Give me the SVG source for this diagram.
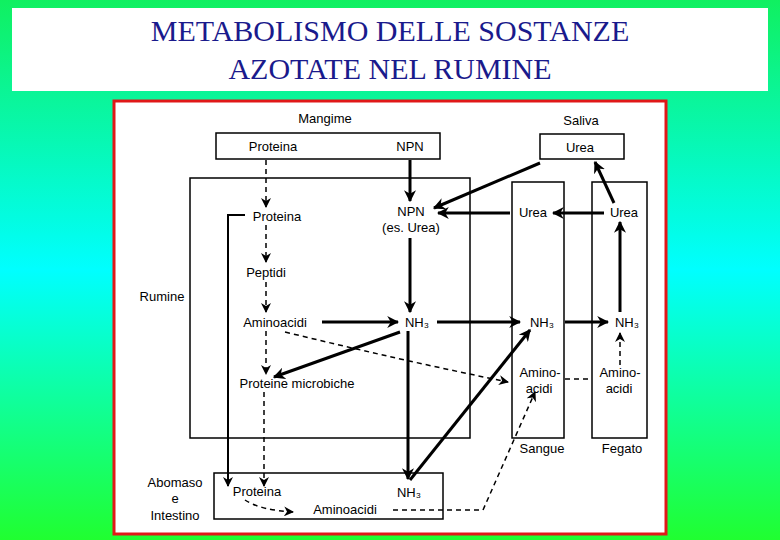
<svg xmlns="http://www.w3.org/2000/svg" width="780" height="540" viewBox="0 0 780 540">
<defs>
<linearGradient id="bg" x1="0" y1="0" x2="0" y2="1">
<stop offset="0" stop-color="#10f060"/><stop offset="0.5" stop-color="#00ffff"/><stop offset="1" stop-color="#20ff30"/>
</linearGradient>
<marker id="a" viewBox="0 0 10 10" refX="9" refY="5" markerWidth="10" markerHeight="10" markerUnits="userSpaceOnUse" orient="auto"><path d="M0,0 L10,5 L0,10 L3,5 Z" fill="#000"/></marker>
<marker id="b" viewBox="0 0 10 10" refX="9" refY="5" markerWidth="12" markerHeight="12" markerUnits="userSpaceOnUse" orient="auto"><path d="M0,0 L10,5 L0,10 L3,5 Z" fill="#000"/></marker>
</defs>
<style>
text{font-family:"Liberation Sans",Arial,sans-serif;font-size:13px;fill:#000;text-anchor:middle}
.t{font-family:"Liberation Serif","Times New Roman",serif;font-size:30px;fill:#1a1a8c}
.box{fill:none;stroke:#000;stroke-width:1.5}
.s{fill:none;stroke:#000;stroke-width:3;marker-end:url(#b)}
.d{fill:none;stroke:#000;stroke-width:1.5;stroke-dasharray:5,4;marker-end:url(#a)}
.dn{fill:none;stroke:#000;stroke-width:1.5;stroke-dasharray:5,4}
.l{fill:none;stroke:#000;stroke-width:2;marker-end:url(#a)}
</style>
<rect width="780" height="540" fill="url(#bg)"/>
<g id="title"><rect x="12" y="8" width="756" height="83" fill="#fff"/>
<text class="t" x="390" y="41">METABOLISMO DELLE SOSTANZE</text><text class="t" x="390" y="79">AZOTATE NEL RUMINE</text></g>
<rect x="114" y="101" width="552" height="433" fill="#fff" stroke="#e01818" stroke-width="3"/>
<g id="mangime"><text x="325" y="123">Mangime</text><rect class="box" x="216" y="133" width="224" height="26"/><text x="273" y="151">Proteina</text><text x="410" y="151">NPN</text></g>
<g id="saliva"><text x="581" y="125">Saliva</text><rect class="box" x="540" y="134" width="84" height="25"/><text x="580" y="152">Urea</text></g>
<g id="rumine"><rect class="box" x="190" y="178" width="280" height="260"/><text x="162" y="301">Rumine</text>
<text x="277" y="221">Proteina</text><text x="266" y="277">Peptidi</text><text x="275" y="327">Aminoacidi</text><text x="297" y="388">Proteine microbiche</text>
<text x="411" y="216">NPN</text><text x="411" y="232">(es. Urea)</text><text x="417" y="327">NH₃</text></g>
<g id="sangue"><rect class="box" x="512" y="182" width="52" height="256"/><text x="533" y="217">Urea</text><text x="542" y="327">NH₃</text><text x="540" y="377">Amino-</text><text x="539" y="393">acidi</text><text x="542" y="453">Sangue</text></g>
<g id="fegato"><rect class="box" x="592" y="182" width="55" height="256"/><text x="624" y="217">Urea</text><text x="627" y="327">NH₃</text><text x="620" y="377">Amino-</text><text x="619" y="393">acidi</text><text x="622" y="453">Fegato</text></g>
<g id="abomaso"><rect class="box" x="214" y="473" width="229" height="46"/><text x="175" y="487">Abomaso</text><text x="175" y="503">e</text><text x="175" y="520">Intestino</text>
<text x="257" y="496">Proteina</text><text x="409" y="497">NH₃</text><text x="345" y="514">Aminoacidi</text></g>
<g id="connectors">
<path class="d" d="M266,160 V207"/><path class="d" d="M266,225 V262"/><path class="d" d="M266,282 V312"/><path class="d" d="M266,331 V374"/><path class="d" d="M264,392 V486"/>
<path class="l" d="M245,215 H228 V486"/>
<path class="s" d="M410,160 V201"/><path class="s" d="M410,238 V312"/>
<path class="s" d="M322,322 H398"/><path class="s" d="M437,322 H520"/><path class="s" d="M565,322 H608"/>
<path class="s" d="M408,331 V479"/><path class="s" d="M410,480 L530,330"/>
<path class="s" d="M400,332 L274,377"/>
<path class="d" d="M285,332 Q400,360 508,382"/>
<path class="dn" d="M565,379 H592"/><path class="d" d="M620,365 V333"/>
<path class="s" d="M620,312 V222"/><path class="s" d="M604,213 H553"/><path class="s" d="M510,213 H438"/>
<path class="s" d="M614,203 L595,162"/><path class="s" d="M540,163 L434,208"/>
<path class="d" d="M245,500 Q260,510 293,512"/>
<path class="d" d="M393,510 H483 L535,392"/>
</g>
</svg>
